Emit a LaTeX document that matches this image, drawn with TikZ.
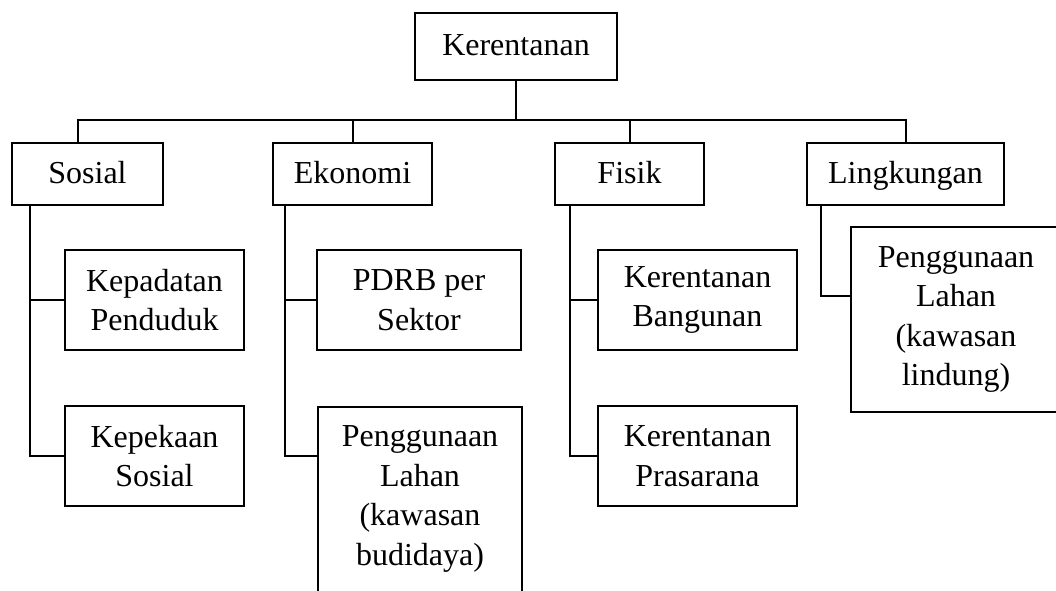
\documentclass[tikz,border=0pt]{standalone}
\usepackage{fontspec}
\setmainfont{Liberation Serif}
\usetikzlibrary{positioning, calc}

\begin{document}
\begin{tikzpicture}[
    % GLOBAL CFG
    x=0.5pt, y=-0.5pt,
    font=\fontsize{16}{19.8}\selectfont,
    line width=1pt,
    % Styles
    box/.style={% For every box
        rectangle,
        draw=black,
        line width=1pt,
        inner sep=0pt,
        fill=white,
    },
    upper/.style={% For the four aspects (one line)
        box,
        minimum height=31pt,
        text height=12pt,
        text depth=3pt,
    },
    lower/.style={% For the indicators
        box,
        minimum height=50pt,
    },
    tall/.style={% For the four line indicators
        box,
        minimum height=92.5pt,
    },
    every text node part/.style={
        align=center
    },
    ]
    \useasboundingbox (0,0) rectangle (1056,590);
    \clip (0,0) rectangle (1056,590);

    % Draw top box
    \node [upper, minimum width=101pt, minimum height=33.5pt] (kerentanan) at (516,46.5) {Kerentanan};

    % Draw aspects
    \node [upper, minimum width=75.5pt] (sosial) at (87.5,174) {Sosial};
    \node [upper, minimum width=79.5pt] (ekonomi) at (352.5,174) {Ekonomi};
    \node [upper, minimum width=74.5pt] (fisik) at (629.5,174) {Fisik};
    \node [upper, minimum width=98.5pt] (lingkungan) at (905.5,174) {Lingkungan};

    % Draw indicators
    \node [lower, minimum width=89.5pt] (kepadatan) at (154.5,300) {Kepadatan\\Penduduk};
    \node [lower, minimum width=89.5pt] (kepekaan) at (154.5,456) {Kepekaan\\Sosial};
    \node [lower, minimum width=102pt] (pdrb) at (419,300) {PDRB per\\Sektor};
    \node [tall, minimum width=102pt] (budidaya) at (420,499) {Penggunaan\\Lahan\\(kawasan\\budidaya)};
    \node [lower, minimum width=99.5pt] (bangunan) at (697.5,300) {Kerentanan\\Bangunan};
    \node [lower, minimum width=99.5pt] (prasarana) at (697.5,456) {Kerentanan\\Prasarana};
    \node [tall, minimum width=105pt] (lindung) at (956,319.5) {Penggunaan\\Lahan\\(kawasan\\lindung)};

    % Coordinates
    \coordinate (bus) at ([yshift=-19.5pt]kerentanan.south);
    \coordinate (s0) at ([xshift=9.5pt]sosial.south west);
    \coordinate (e0) at ([xshift=6.5pt]ekonomi.south west);
    \coordinate (f0) at ([xshift=8pt]fisik.south west);
    \coordinate (l0) at ([xshift=7.5pt]lingkungan.south west);

    % Bus
    \draw (kerentanan.south) -- (bus);
    \draw ([xshift=-5pt]sosial.north) |- (bus) -| (lingkungan.north);
    \draw (ekonomi.north) -- (ekonomi.north |- bus);
    \draw (fisik.north) -- (fisik.north |- bus);

    % Sosial
    \draw (s0) |- (kepekaan.west);
    \draw (s0 |- kepadatan.west) -- (kepadatan.west);

    % Ekonomi
    \draw (e0) |- ([yshift=-25pt]budidaya.north west);
    \draw (e0 |- pdrb.west) -- (pdrb.west);

    % Fisik
    \draw (f0) |- (prasarana.west);
    \draw (f0 |- bangunan.west) -- (bangunan.west);

    % Lingkungan
    \draw (l0) |- ([yshift=12pt]lindung.west);

\end{tikzpicture}
\end{document}
